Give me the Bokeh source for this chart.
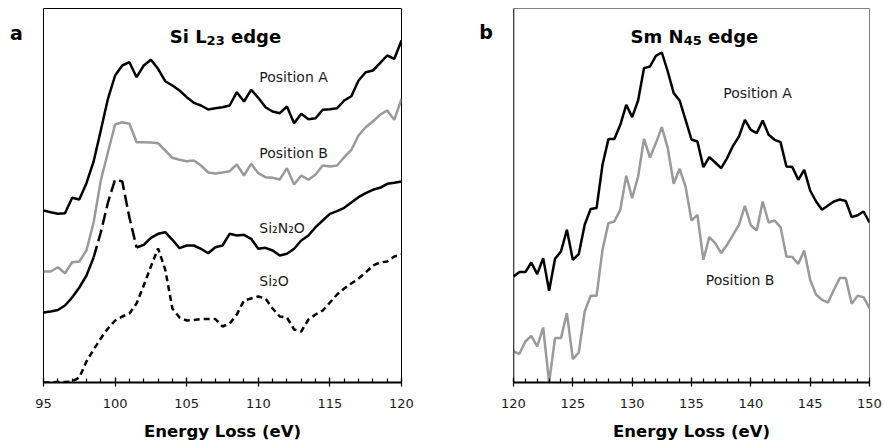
from bokeh.plotting import figure
from bokeh.models import Range1d, SingleIntervalTicker, Label, Span, ColumnDataSource
from bokeh.core.properties import value
from bokeh.layouts import row
from bokeh.embed import file_html
from bokeh.resources import INLINE

# ---------------- Panel a : Si L23 edge ----------------
energy_a = [95.0, 95.5, 96.0, 96.5, 97.0, 97.5, 98.0, 98.5, 99.0, 99.5,
            100.0, 100.5, 101.0, 101.5, 102.0, 102.5, 103.0, 103.5, 104.0, 104.5,
            105.0, 105.5, 106.0, 106.5, 107.0, 107.5, 108.0, 108.5, 109.0, 109.5,
            110.0, 110.5, 111.0, 111.5, 112.0, 112.5, 113.0, 113.5, 114.0, 114.5,
            115.0, 115.5, 116.0, 116.5, 117.0, 117.5, 118.0, 118.5, 119.0, 119.5, 120.0]

si_pos_a = [172, 170.3, 168.7, 169.3, 184.7, 183, 199.3, 221, 252, 283.7,
            307, 317, 320.3, 305.3, 317, 322.7, 313.7, 301.3, 297, 292,
            285.3, 279.7, 277, 273, 274.3, 275.3, 277, 290.3, 281, 292.7,
            284.7, 275.3, 271, 269.3, 276, 259.3, 268.7, 263.3, 264.3, 272.7,
            273.3, 274.3, 282, 286.3, 302, 310.3, 312, 319.3, 327, 323.7, 342]

si_pos_b = [111, 111, 115.3, 109.3, 120.3, 121, 132, 160, 202, 230.3,
            258, 260.3, 258.7, 240.3, 240.3, 240, 239.3, 232, 224.7, 222.7,
            221.3, 222, 217, 210, 209, 210, 211.3, 218, 207, 218.7,
            209.3, 205.3, 204.7, 203, 214.3, 198, 207, 202.7, 208, 217,
            216, 217, 225.3, 232.7, 247, 255.3, 261, 267.7, 272, 262.7, 283.7]

si2n2o = [70, 71, 72.5, 77, 85, 95, 107, 125, 150, 180,
          203, 201, 165, 135, 137.7, 144.7, 148.7, 150.3, 142.7, 134.3,
          137, 137, 133.7, 129.3, 135.3, 137, 148.7, 147, 147.7, 143.7,
          133.7, 134.7, 132, 127, 128.7, 133.7, 142, 147, 155.3, 162,
          168.7, 171.3, 174.7, 180, 185.3, 189.3, 192.7, 194.7, 198.7, 199.7, 201]

si2o = [0, 0, 0.5, 0.5, 1, 5, 21, 33, 44, 54,
        62, 66, 69, 79, 97, 116, 134, 113, 74, 65,
        62, 62.5, 63.5, 63.5, 63.5, 56, 59, 68, 82, 84,
        86, 84, 74, 66, 65, 53, 51, 63, 68, 72,
        80, 88, 94, 99, 104, 110, 117, 120, 121, 126, 128]

# ---------------- Panel b : Sm N45 edge ----------------
energy_b = [120.0, 120.5, 121.0, 121.5, 122.0, 122.5, 123.0, 123.5, 124.0, 124.5,
            125.0, 125.5, 126.0, 126.5, 127.0, 127.5, 128.0, 128.5, 129.0, 129.5,
            130.0, 130.5, 131.0, 131.5, 132.0, 132.5, 133.0, 133.5, 134.0, 134.5,
            135.0, 135.5, 136.0, 136.5, 137.0, 137.5, 138.0, 138.5, 139.0, 139.5,
            140.0, 140.5, 141.0, 141.5, 142.0, 142.5, 143.0, 143.5, 144.0, 144.5,
            145.0, 145.5, 146.0, 146.5, 147.0, 147.5, 148.0, 148.5, 149.0, 149.5, 150.0]

sm_pos_a = [106, 110.4, 110.4, 120, 108.4, 124.4, 91.7, 123.7, 131, 152.7,
            122.7, 128.4, 157.7, 173.5, 174.4, 217.7, 243.4, 243.4, 257.7, 277.7,
            265.4, 282, 314.4, 316, 326.7, 330, 311, 289.4, 282, 262.7,
            243, 241, 215.4, 225.4, 220, 214.4, 224.4, 236.7, 246, 262.7,
            252.7, 249.4, 262, 247.7, 242.7, 240.4, 216, 215.4, 202.7, 212.7,
            192, 181, 172.7, 177, 181, 183, 181.5, 165.4, 167.3, 171, 160]

sm_pos_b = [31, 28.7, 41, 46.7, 36, 55, 0, 44.4, 44.4, 69.4,
            23.4, 30, 71, 86.7, 86.7, 132.7, 159.4, 161, 172.7, 206.7,
            184.4, 206, 243.7, 225, 239.4, 255.4, 234.4, 198.7, 213.7, 196,
            162, 167.7, 122.7, 145.4, 139.4, 129.4, 137.7, 147.7, 157.7, 176.7,
            157.2, 152, 181, 160, 162, 155.4, 126, 125.4, 118.7, 132,
            102.7, 87.7, 82.7, 80, 92.7, 104.4, 104.4, 78.7, 86.7, 85.4, 74.4]

# label texts
title_a_parts = ["Si L", "23", "edge"]
title_b_parts = ["Sm N", "45", "edge"]
curve_labels_a = ["Position A", "Position B", "Si\u2082N\u2082O", "Si\u2082O"]
curve_labels_b = ["Position A", "Position B"]
panel_letters = ["a", "b"]
x_label = "Energy Loss (eV)"

BLACK = "#000000"
GREY = "#9a9a9a"
TXT = "#1a1a1a"
FONT = "DejaVu Sans"
H = 444


def style_axis(p):
    ax = p.xaxis[0]
    ax.axis_line_width = 2
    ax.axis_line_color = BLACK
    ax.major_tick_in = 5
    ax.major_tick_out = 4
    ax.minor_tick_in = 4
    ax.minor_tick_out = 0
    ax.major_tick_line_width = 1.2
    ax.minor_tick_line_width = 1.2
    ax.major_label_text_font = FONT
    ax.major_label_text_font_size = "13px"
    ax.major_label_text_color = TXT
    ax.major_label_standoff = 12
    ax.axis_label = x_label
    ax.axis_label_text_font = FONT
    ax.axis_label_text_font_style = "bold"
    ax.axis_label_text_font_size = "16.5px"
    ax.axis_label_text_color = BLACK
    ax.axis_label_standoff = 11
    p.grid.visible = False
    p.background_fill_color = "white"
    p.border_fill_color = "white"


def lbl(p, x, y, text, size="14px", bold=False, align="left", baseline="middle"):
    p.add_layout(Label(x=x, y=y, text=text, text_font=FONT, text_font_size=size,
                       text_font_style="bold" if bold else "normal",
                       text_color=BLACK if bold else TXT,
                       text_align=align, text_baseline=baseline))


def title(p, x_right, x_edge, parts):
    lbl(p, x_right, 346, parts[0], size="18px", bold=True, align="right", baseline="alphabetic")
    lbl(p, x_right, 342, parts[1], size="13px", bold=True, align="left", baseline="alphabetic")
    lbl(p, x_edge, 346, parts[2], size="18px", bold=True, align="left", baseline="alphabetic")


def letter_fig(width, x, y, text):
    f = figure(width=width, height=H, x_range=Range1d(0, width), y_range=Range1d(0, H),
               output_backend="svg", toolbar_location=None,
               x_axis_location=None, y_axis_location=None,
               min_border_left=0, min_border_right=0, min_border_top=0, min_border_bottom=0)
    f.outline_line_color = None
    f.grid.visible = False
    f.border_fill_color = "white"
    f.text(x=[x], y=[H - y], text=[text], text_font=value(FONT), text_font_size="19px",
           text_font_style="bold", text_align="center", text_baseline="middle",
           text_color=BLACK)
    return f


# ---- letter a ----
fa = letter_fig(24, 16, 29.5, panel_letters[0])

# ---- figure a ----
pa = figure(width=424, height=H, x_range=Range1d(95, 120), y_range=Range1d(0, 374),
            output_backend="svg", toolbar_location=None, y_axis_location=None,
            min_border_left=19, min_border_right=47, min_border_top=8, min_border_bottom=62)
pa.xaxis.ticker = SingleIntervalTicker(interval=5, num_minor_ticks=5)
style_axis(pa)
pa.outline_line_color = BLACK
pa.outline_line_width = 1

src_a = ColumnDataSource(dict(e=energy_a, a=si_pos_a, b=si_pos_b, n=si2n2o, o=si2o))
pa.line("e", "b", source=src_a, line_color=GREY, line_width=2.5)
pa.line("e", "a", source=src_a, line_color=BLACK, line_width=2.5)
# Si2N2O: solid, with its peak region drawn long-dashed
pa.line(energy_a[:8], si2n2o[:8], line_color=BLACK, line_width=2.5)
pa.line(energy_a[7:14], si2n2o[7:14], line_color=BLACK, line_width=2.5, line_dash="12 5")
pa.line(energy_a[13:], si2n2o[13:], line_color=BLACK, line_width=2.5)
pa.line("e", "o", source=src_a, line_color=BLACK, line_width=2.5, line_dash="6 4")

lbl(pa, 110.07, 306, curve_labels_a[0])
lbl(pa, 110.07, 230, curve_labels_a[1])
lbl(pa, 110.07, 155, curve_labels_a[2])
lbl(pa, 110.07, 102, curve_labels_a[3])
title(pa, 106.39, 108.09, title_a_parts)

# ---- letter b ----
fb = letter_fig(52, 37.5, 28, panel_letters[1])

# ---- figure b ----
pb = figure(width=384, height=H, x_range=Range1d(120, 150), y_range=Range1d(0, 374),
            output_backend="svg", toolbar_location=None, y_axis_location=None,
            min_border_left=13, min_border_right=15, min_border_top=8, min_border_bottom=62)
pb.xaxis.ticker = SingleIntervalTicker(interval=5, num_minor_ticks=5)
style_axis(pb)
pb.outline_line_color = "#808080"
pb.outline_line_width = 1
pb.add_layout(Span(location=120, dimension="height", line_color=BLACK, line_width=1.5))

src_b = ColumnDataSource(dict(e=energy_b, a=sm_pos_a, b=sm_pos_b))
pb.line("e", "b", source=src_b, line_color=GREY, line_width=2.5)
pb.line("e", "a", source=src_b, line_color=BLACK, line_width=2.5)

lbl(pb, 137.68, 289.4, curve_labels_b[0])
lbl(pb, 136.2, 102.7, curve_labels_b[1])
title(pb, 134.34, 136.40, title_b_parts)

layout = row(fa, pa, fb, pb)
open("out.html", "w").write(file_html(layout, INLINE))
